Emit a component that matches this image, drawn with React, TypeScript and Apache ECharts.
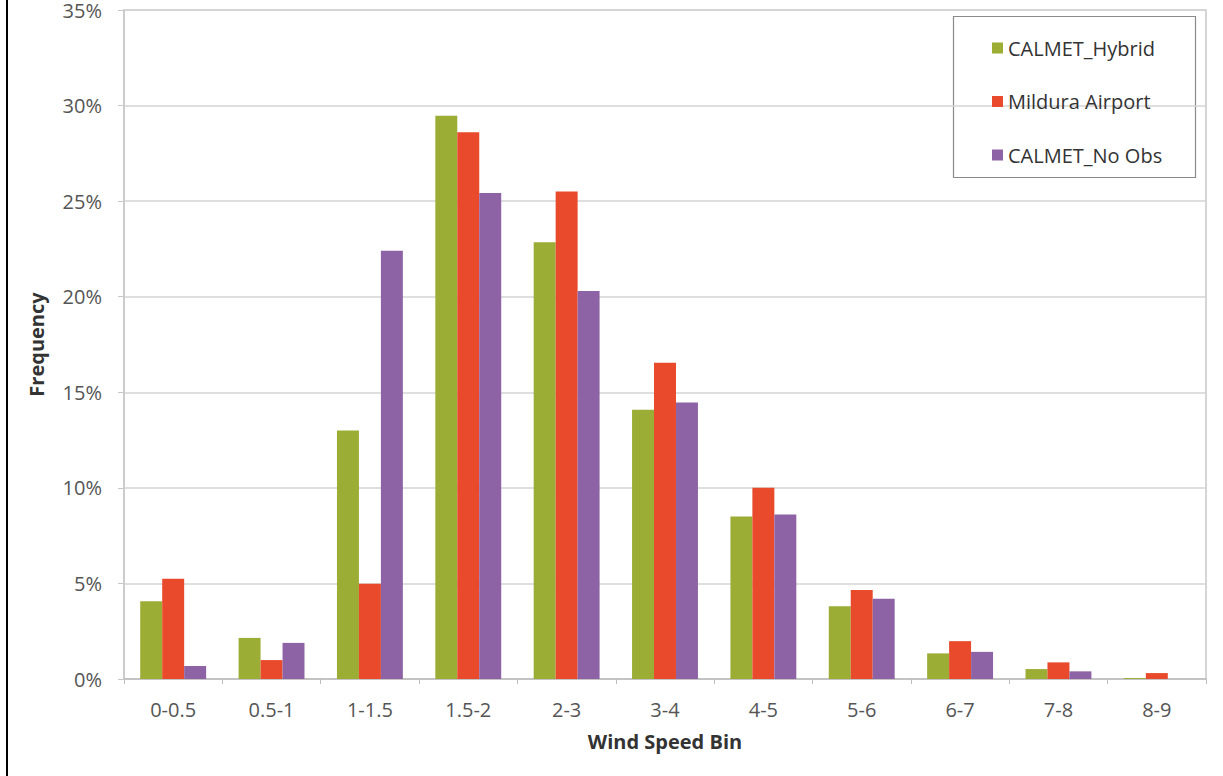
import React, { useEffect, useRef } from "react";
import * as echarts from "echarts";

const categories = ["0-0.5", "0.5-1", "1-1.5", "1.5-2", "2-3", "3-4", "4-5", "5-6", "6-7", "7-8", "8-9"];
const calmetHybrid = [4.07, 2.15, 13.0, 29.47, 22.85, 14.09, 8.5, 3.8, 1.34, 0.52, 0.05];
const milduraAirport = [5.24, 0.99, 4.98, 28.6, 25.5, 16.54, 10.0, 4.66, 1.98, 0.87, 0.31];
const calmetNoObs = [0.68, 1.89, 22.41, 25.43, 20.3, 14.46, 8.6, 4.2, 1.42, 0.4, 0.0];
const yTicks = { min: 0, max: 35, interval: 5 };

const FONT = "'Open Sans', 'Noto Sans', sans-serif";

export default function App() {
  const ref = useRef<HTMLDivElement>(null);
  useEffect(() => {
    if (!ref.current) return;
    const chart = echarts.init(ref.current, null, { renderer: "svg" });
    chart.setOption({
      animation: false,
      backgroundColor: "#ffffff",
      textStyle: { fontFamily: FONT },
      grid: {
        left: 124,
        right: 17,
        top: 4,
        bottom: 97,
        show: true,
        borderColor: "#c8c8c8",
        borderWidth: 1.5,
      },
      legend: {
        orient: "vertical",
        left: 987,
        top: 31,
        itemWidth: 11,
        itemHeight: 11,
        itemGap: 29.5,
        icon: "rect",
        textStyle: { fontSize: 20, color: "#333333", lineHeight: 24, fontFamily: FONT },
        data: ["CALMET_Hybrid", "Mildura Airport", "CALMET_No Obs"],
      },
      xAxis: {
        type: "category",
        data: categories,
        name: "Wind Speed Bin",
        nameLocation: "middle",
        nameGap: 52,
        nameTextStyle: { fontSize: 20, fontWeight: "bold", color: "#333333", fontFamily: FONT },
        axisLine: { lineStyle: { color: "#bdbdbd", width: 1.5 } },
        axisTick: { show: true, length: 5, lineStyle: { color: "#bdbdbd" } },
        axisLabel: { fontSize: 20, color: "#555555", margin: 20, fontFamily: FONT },
      },
      yAxis: {
        type: "value",
        min: yTicks.min,
        max: yTicks.max,
        interval: yTicks.interval,
        name: "Frequency",
        nameLocation: "middle",
        nameGap: 78,
        nameTextStyle: { fontSize: 20, fontWeight: "bold", color: "#333333", fontFamily: FONT },
        axisLine: { show: true, lineStyle: { color: "#c8c8c8", width: 1.5 } },
        axisTick: { show: true, length: 6, lineStyle: { color: "#c8c8c8" } },
        axisLabel: { fontSize: 20, color: "#555555", margin: 22, formatter: "{value}%", fontFamily: FONT },
        splitLine: { lineStyle: { color: "#d4d4d4", width: 1.5 } },
      },
      series: [
        { name: "CALMET_Hybrid", type: "bar", data: calmetHybrid, itemStyle: { color: "#9bad35" }, barGap: "0%", barCategoryGap: "33%" },
        { name: "Mildura Airport", type: "bar", data: milduraAirport, itemStyle: { color: "#e84a2b" }, barGap: "0%", barCategoryGap: "33%" },
        { name: "CALMET_No Obs", type: "bar", data: calmetNoObs, itemStyle: { color: "#8e63a5" }, barGap: "0%", barCategoryGap: "33%" },
      ],
      graphic: [
        {
          type: "rect",
          shape: { x: 953.5, y: 16.5, width: 242, height: 161 },
          style: { fill: "#ffffff", stroke: "#8a8a8a", lineWidth: 1.2 },
          z: 0,
          zlevel: 0,
        },
        {
          type: "line",
          shape: { x1: 7, y1: 0, x2: 7, y2: 776 },
          style: { stroke: "#000000", lineWidth: 2 },
        },
      ],
    });
    return () => chart.dispose();
  }, []);
  return <div ref={ref} style={{ position: "absolute", left: 0, top: 0, width: 1223, height: 776 }} />;
}
